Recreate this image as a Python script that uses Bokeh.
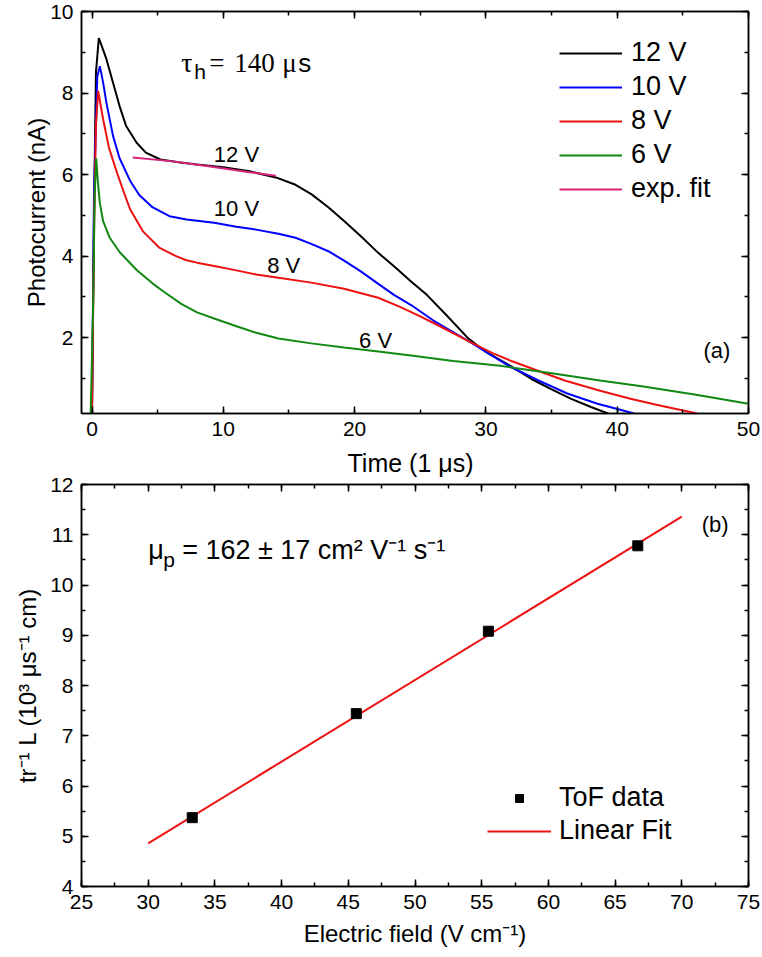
from bokeh.plotting import figure
from bokeh.layouts import column
from bokeh.models import (Legend, LegendItem, LinearAxis, SingleIntervalTicker,
                          Label, CustomLabelingPolicy)
from bokeh.embed import file_html
from bokeh.resources import INLINE

# ---------------- data ----------------
t_12 = [0.0, 0.15, 0.3, 0.52, 0.8, 1.1, 1.6, 2.1, 2.6, 3.4, 4.1, 5.2, 6.6, 8.0, 10.0,
        12.0, 14.0, 15.5, 16.7, 18.0, 19.2, 20.5, 21.8, 23.0, 24.3, 25.5, 27.0,
        28.6, 30.0, 31.9, 33.5, 35.0, 36.5, 38.0, 39.3]
i_12 = [0.14, 5.0, 8.5, 9.35, 9.1, 8.83, 8.25, 7.68, 7.19, 6.78, 6.54, 6.37, 6.30,
        6.25, 6.18, 6.08, 5.93, 5.75, 5.52, 5.2, 4.86, 4.48, 4.08, 3.75, 3.38, 3.05,
        2.55, 2.0, 1.65, 1.30, 0.98, 0.73, 0.5, 0.3, 0.14]

t_10 = [0.0, 0.15, 0.4, 0.6, 0.85, 1.1, 1.6, 2.1, 2.9, 3.6, 4.6, 5.9, 7.2, 8.0, 9.3,
        11.0, 12.5, 14.2, 15.5, 16.7, 18.0, 19.2, 20.5, 21.8, 23.0, 24.3, 26.0,
        28.6, 30.5, 31.9, 34.0, 36.2, 38.5, 41.3]
i_10 = [0.14, 5.5, 8.4, 8.66, 8.25, 7.76, 6.95, 6.4, 5.85, 5.5, 5.2, 4.98, 4.9, 4.87,
        4.82, 4.72, 4.65, 4.55, 4.45, 4.30, 4.12, 3.89, 3.62, 3.32, 3.05, 2.80,
        2.42, 1.93, 1.55, 1.28, 0.95, 0.63, 0.38, 0.14]

t_8 = [0.0, 0.15, 0.3, 0.47, 0.85, 1.3, 1.9, 2.5, 2.9, 3.9, 5.15, 6.4, 7.2, 8.0, 9.3,
       11.0, 12.5, 14.2, 16.7, 19.2, 21.8, 23.5, 25.0, 26.5, 28.6, 30.5, 32.0,
       33.7, 36.0, 38.7, 41.0, 43.5, 46.1]
i_8 = [0.14, 4.5, 7.2, 8.05, 7.35, 6.65, 6.05, 5.5, 5.15, 4.6, 4.2, 4.0, 3.9, 3.84,
       3.76, 3.65, 3.55, 3.47, 3.35, 3.2, 2.98, 2.75, 2.52, 2.28, 1.93, 1.62, 1.42,
       1.22, 0.95, 0.70, 0.5, 0.32, 0.14]

t_6 = [-0.1, 0.1, 0.2, 0.32, 0.45, 0.6, 0.85, 1.35, 2.1, 3.4, 4.65, 5.5, 6.8, 8.0,
       9.3, 11.0, 12.5, 14.2, 16.7, 19.2, 21.8, 24.3, 27.5, 31.1, 35.0, 38.7,
       42.0, 46.0, 50.0]
i_6 = [0.14, 3.0, 5.5, 6.4, 5.8, 5.3, 4.85, 4.45, 4.1, 3.66, 3.32, 3.12, 2.83, 2.62,
       2.47, 2.28, 2.12, 1.98, 1.86, 1.76, 1.66, 1.56, 1.43, 1.31, 1.13, 0.95,
       0.8, 0.6, 0.38]

fit_t = [3.1, 6.0, 9.0, 12.0, 14.0]
fit_i = [6.42, 6.33, 6.20, 6.06, 5.97]

field = [33.3, 45.6, 55.5, 66.7]
rate = [5.37, 7.44, 9.08, 10.78]
fit_field = [30.0, 70.0]
fit_rate = [4.86, 11.36]

FONT = "Liberation Sans"
SERIF = "Liberation Serif"


def style(p, xint, yint):
    p.grid.visible = False
    p.outline_line_color = "black"
    p.outline_line_width = 1.5
    p.background_fill_color = "white"
    p.border_fill_color = "white"
    p.xaxis.ticker = SingleIntervalTicker(interval=xint, num_minor_ticks=2)
    p.yaxis.ticker = SingleIntervalTicker(interval=yint, num_minor_ticks=2)
    for ax in list(p.xaxis) + list(p.yaxis):
        ax.axis_line_width = 1.5
        ax.major_tick_in = 7
        ax.major_tick_out = 0
        ax.minor_tick_in = 4
        ax.minor_tick_out = 0
        ax.major_tick_line_width = 1.5
        ax.minor_tick_line_width = 1.5
        ax.major_label_text_font = FONT
        ax.major_label_text_font_size = "21px"
        ax.major_label_text_color = "black"
        ax.axis_label_text_font = FONT
        ax.axis_label_text_font_size = "24px"
        ax.axis_label_text_font_style = "normal"
        ax.axis_label_text_color = "black"
        ax.major_label_standoff = 8
    for side, interval in (("above", xint), ("right", yint)):
        ax = LinearAxis(ticker=SingleIntervalTicker(interval=interval, num_minor_ticks=2),
                        major_tick_in=7, major_tick_out=0, minor_tick_in=4, minor_tick_out=0,
                        major_tick_line_width=1.5, minor_tick_line_width=1.5,
                        axis_line_width=1.5, major_label_text_font_size="8px",
                        major_label_standoff=0,
                        major_label_policy=CustomLabelingPolicy(code="return new Set()"))
        p.add_layout(ax, side)


def label(p, txt, x, y, size, font=FONT, align="center", baseline="middle", dx=0, dy=0):
    p.add_layout(Label(x=x, y=y, x_offset=dx, y_offset=dy, text=txt, text_font=font,
                       text_font_size=size, text_align=align, text_baseline=baseline,
                       text_color="black"))


# ---------------- panel (a) ----------------
p1 = figure(width=762, height=446, x_range=(-0.8, 50), y_range=(0.14, 10),
            output_backend="svg", toolbar_location=None,
            min_border_left=81, min_border_right=14, min_border_top=11,
            min_border_bottom=33)
style(p1, 10, 2)
p1.left[0].axis_label = "Photocurrent (nA)"
p1.left[0].axis_label_standoff = -3

r12 = p1.line(t_12, i_12, line_color="black", line_width=2)
r10 = p1.line(t_10, i_10, line_color="#0000ff", line_width=2)
r8 = p1.line(t_8, i_8, line_color="#ee1111", line_width=2)
r6 = p1.line(t_6, i_6, line_color="#118811", line_width=2)
rfit = p1.line(fit_t, fit_i, line_color="#d6247f", line_width=2)

leg1 = Legend(items=[LegendItem(label="12 V", renderers=[r12]),
                     LegendItem(label="10 V", renderers=[r10]),
                     LegendItem(label="8 V", renderers=[r8]),
                     LegendItem(label="6 V", renderers=[r6]),
                     LegendItem(label="exp. fit", renderers=[rfit])],
              location=(478, 209), label_text_font=FONT, label_text_font_size="27px",
              label_text_color="black",
              glyph_width=63, glyph_height=20, label_standoff=9, spacing=3,
              padding=10, border_line_color=None, background_fill_alpha=0)
p1.add_layout(leg1)

for txt, x, y in (("12 V", 11.0, 6.5), ("10 V", 11.0, 5.16), ("8 V", 14.6, 3.78),
                  ("6 V", 21.6, 1.93), ("(a)", 47.6, 1.68)):
    label(p1, txt, x, y, "22px")

# tau_h = 140 us
for txt, dx, dy, fnt, fs in (("τ", 0, 0, SERIF, "28px"), ("h", 13, -9, FONT, "21px"),
                             ("=", 28, 0, SERIF, "27px"), ("140", 53, 0, SERIF, "27px"),
                             ("μ", 101, 0, SERIF, "27px"), ("s", 117, 0, FONT, "26px")):
    label(p1, txt, 6.8, 8.74, fs, font=fnt, align="left", dx=dx, dy=dy)

# ---------------- panel (b) ----------------
p2 = figure(width=762, height=511, x_range=(25, 75), y_range=(4, 12),
            output_backend="svg", toolbar_location=None,
            min_border_left=81, min_border_right=14, min_border_top=38,
            min_border_bottom=71)
style(p2, 5, 1)
p2.below[0].axis_label = "Electric field (V cm⁻¹)"
p2.left[0].axis_label = "tr⁻¹ L (10³ μs⁻¹ cm)"
p2.below[0].axis_label_standoff = 8
p2.left[0].axis_label_standoff = 6

# x-axis title of panel (a), drawn in the gap between the two panels
p2.title.text = "Time (1 μs)"
p2.title.text_font = FONT
p2.title.text_font_size = "25px"
p2.title.text_font_style = "normal"
p2.title.text_color = "black"
p2.title.align = "left"
p2.title.offset = 266
p2.title.standoff = 0

rline = p2.line(fit_field, fit_rate, line_color="#ee1111", line_width=2)
rpts = p2.scatter(field, rate, marker="square", size=10, fill_color="black",
                  line_color="black")

leg2 = Legend(items=[LegendItem(label="ToF data", renderers=[rpts]),
                     LegendItem(label="Linear Fit", renderers=[rline])],
              location=(406, 40), label_text_font=FONT, label_text_font_size="27px",
              label_text_color="black",
              glyph_width=64, glyph_height=20, label_standoff=8, spacing=2,
              padding=10, border_line_color=None, background_fill_alpha=0)
p2.add_layout(leg2)

label(p2, "(b)", 72.5, 11.2, "22px")
for txt, dx, dy, fs in (("μ", 0, 0, "27px"), ("p", 15, -9, "21px"),
                        ("= 162 ± 17 cm² V⁻¹ s⁻¹", 34, 0, "27px")):
    label(p2, txt, 30.0, 10.69, fs, align="left", dx=dx, dy=dy)

layout = column(p1, p2)
open("out.html", "w").write(file_html(layout, INLINE))
